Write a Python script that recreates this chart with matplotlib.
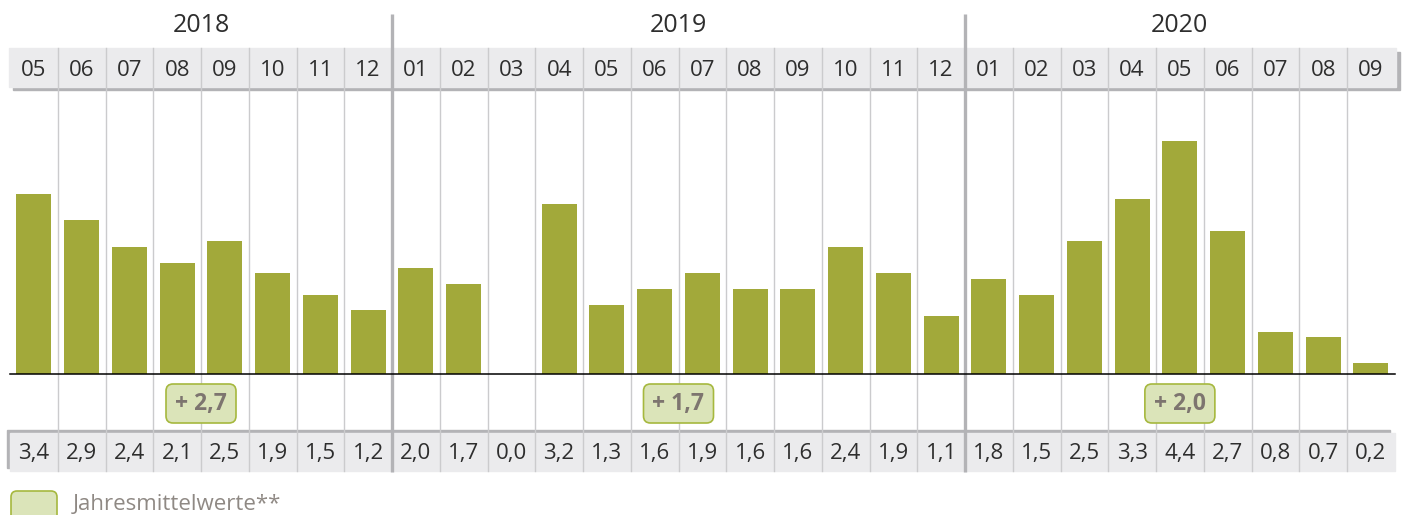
import numpy as np
import matplotlib
matplotlib.use('Agg')
import matplotlib.pyplot as plt
from matplotlib.patches import Rectangle, FancyBboxPatch

plt.rcParams['font.family'] = ['Open Sans', 'DejaVu Sans']

# data
years = ['2018', '2019', '2020']
year_counts = [8, 12, 9]
months = ['05', '06', '07', '08', '09', '10', '11', '12',
          '01', '02', '03', '04', '05', '06', '07', '08', '09', '10', '11', '12',
          '01', '02', '03', '04', '05', '06', '07', '08', '09']
values = [3.4, 2.9, 2.4, 2.1, 2.5, 1.9, 1.5, 1.2,
          2.0, 1.7, 0.0, 3.2, 1.3, 1.6, 1.9, 1.6, 1.6, 2.4, 1.9, 1.1,
          1.8, 1.5, 2.5, 3.3, 4.4, 2.7, 0.8, 0.7, 0.2]
annual_means = [2.7, 1.7, 2.0]
legend_label = 'Jahresmittelwerte**'

bar_color = '#a2a93a'
box_fill = '#dbe4b9'
box_edge = '#a6b83e'
cell_grey = '#ebebed'
shadow_grey = '#b3b3b6'
line_grey = '#cbcbcd'
text_dark = '#2e2e2e'

W, H = 1404, 515
fig = plt.figure(figsize=(W / 100, H / 100), dpi=100)

# pixel overlay axes
ax0 = fig.add_axes([0, 0, 1, 1])
ax0.set_xlim(0, W)
ax0.set_ylim(H, 0)
ax0.axis('off')

n = len(months)
x0, cw = 10, 47.75
x1 = x0 + n * cw

def colx(i):
    return x0 + i * cw

# header row with shadow
ax0.add_patch(Rectangle((13, 52), x1 - 8, 38, color=shadow_grey, zorder=1))
ax0.add_patch(Rectangle((9, 48), x1 - 8, 39, color=cell_grey, zorder=2))
# value row with shadow
ax0.add_patch(Rectangle((7, 430), x1 - 12, 38, color=shadow_grey, zorder=1))
ax0.add_patch(Rectangle((10, 433), x1 - 10, 38, color=cell_grey, zorder=2))

# column separators
year_bounds = np.cumsum(year_counts)[:-1]
for i in range(1, n):
    if i in year_bounds:
        ax0.plot([colx(i), colx(i)], [14, 472], color=shadow_grey, lw=2.4, zorder=4,
                 solid_capstyle='butt')
    else:
        ax0.plot([colx(i), colx(i)], [48, 471], color=line_grey, lw=1, zorder=3)

# month labels and values
for i, (m, v) in enumerate(zip(months, values)):
    xc = colx(i + 0.5)
    ax0.text(xc, 70, m, ha='center', va='center', fontsize=16, color=text_dark, zorder=5)
    ax0.text(xc, 453, f'{v:.1f}'.replace('.', ','), ha='center', va='center',
             fontsize=16, color=text_dark, zorder=5)

# year labels and annual mean boxes
start = 0
for yr, cnt, mean in zip(years, year_counts, annual_means):
    xm = colx(start + cnt / 2)
    ax0.text(xm, 25, yr, ha='center', va='center', fontsize=18, color=text_dark)
    ax0.add_patch(FancyBboxPatch((xm - 31, 388), 62, 31,
                                 boxstyle='round,pad=4,rounding_size=7',
                                 fc=box_fill, ec=box_edge, lw=1.2, zorder=6))
    ax0.text(xm, 404, f'+ {mean:.1f}'.replace('.', ','), ha='center', va='center',
             fontsize=16.5, fontweight='bold', color='#7d756f', zorder=7)
    start += cnt

# legend
ax0.add_patch(FancyBboxPatch((14, 494), 40, 30, boxstyle='round,pad=3,rounding_size=6',
                             fc=box_fill, ec=box_edge, lw=1.2))
ax0.text(73, 504, legend_label, ha='left', va='center', fontsize=16, color='#8f8984')

# bars
base_px, top_px, px_per_unit = 374, 90, 53
ax = fig.add_axes([x0 / W, (H - base_px) / H, (x1 - x0) / W, (base_px - top_px) / H])
ax.set_facecolor('none')
ax.set_xlim(0, n)
ax.set_ylim(0, (base_px - top_px) / px_per_unit)
ax.axis('off')
ax.bar(np.arange(n) + 0.5, values, width=0.73, color=bar_color, zorder=3)
ax.axhline(0, color='black', lw=1.1, clip_on=False, zorder=4)

fig.savefig('out.png', dpi=100)
